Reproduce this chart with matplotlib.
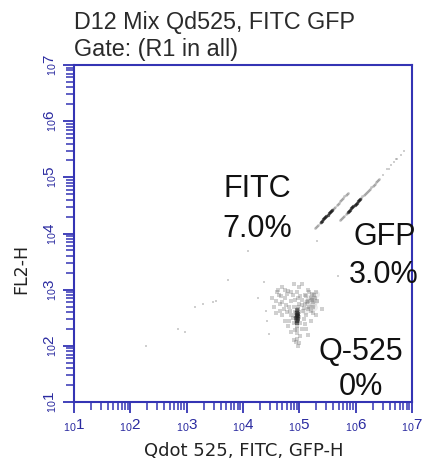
import math
import matplotlib
matplotlib.use("Agg")
import matplotlib.pyplot as plt
from matplotlib.ticker import FixedLocator, FuncFormatter

plt.rcParams['font.family'] = ['Liberation Sans', 'DejaVu Sans']

# events, in decades (log10 of channel value)
q525_x = [4.96, 4.95, 4.97, 4.96, 4.94, 4.98, 4.95, 4.97, 4.93, 4.99, 4.96, 4.95, 4.97, 4.92, 5.00,
          4.94, 4.96, 4.95, 4.97, 4.98, 4.96, 4.95, 4.97, 4.96,
          5.10, 5.15, 5.20, 5.25, 5.18, 5.12, 5.22, 5.28, 5.05, 5.15, 5.30, 5.08, 5.25,
          4.60, 4.70, 4.75, 4.65, 4.80, 4.85, 4.55, 4.90, 4.72, 4.82, 4.62, 4.78, 4.88, 4.68,
          5.00, 4.95, 5.05, 4.52,
          4.80, 4.85, 5.05, 5.10, 5.15, 4.90, 5.00, 4.75, 5.20, 5.08, 4.88, 5.30, 5.40, 4.70,
          4.58, 4.64, 4.70, 4.76, 4.84, 4.86, 4.92, 4.90, 5.02, 5.04, 5.10, 5.14, 5.18, 5.22,
          5.26, 5.32, 5.20, 5.12, 5.06, 5.02, 4.90, 4.86, 4.82, 4.92, 5.02, 4.96, 4.98, 4.94,
          5.12, 4.78, 4.66, 4.58, 5.24, 5.00, 4.98, 4.74, 5.16, 4.96, 4.94, 4.98]
q525_y = [2.53, 2.55, 2.50, 2.58, 2.48, 2.56, 2.45, 2.62, 2.53, 2.52, 2.40, 2.35, 2.66, 2.60, 2.60,
          2.42, 2.30, 2.22, 2.45, 2.70, 2.52, 2.50, 2.55, 2.47,
          2.75, 2.80, 2.85, 2.78, 2.70, 2.88, 2.92, 2.85, 2.82, 2.65, 2.95, 2.68, 2.70,
          2.95, 3.05, 2.85, 2.75, 2.98, 2.80, 2.70, 3.10, 2.65, 2.70, 3.00, 2.92, 2.90, 2.88,
          3.05, 2.95, 3.10, 2.85,
          2.35, 2.25, 2.30, 2.38, 2.20, 2.10, 2.05, 2.45, 2.45, 2.48, 2.50, 2.55, 2.65, 2.55,
          2.80, 2.90, 2.78, 2.72, 2.62, 2.95, 2.82, 2.70, 2.88, 2.72, 2.90, 2.78, 2.95, 2.82,
          2.90, 2.80, 2.62, 2.55, 2.62, 2.40, 2.40, 2.55, 2.45, 2.28, 2.18, 2.12, 2.00, 2.06,
          2.30, 2.60, 2.62, 2.58, 2.58, 2.75, 2.85, 3.00, 3.00, 2.62, 2.58, 2.46]
# dark centre of the Q-525 cloud
q525_core_x = [4.96, 4.95, 4.97, 4.96, 4.95, 4.97, 4.96, 4.94, 4.98, 4.96]
q525_core_y = [2.51, 2.55, 2.48, 2.44, 2.59, 2.53, 2.40, 2.50, 2.56, 2.63]

# lighter smudge right of the Q-525 core
smudge_x = [5.16, 5.20, 5.24, 5.28, 5.18, 5.22, 5.26, 5.14, 5.20, 5.24, 5.10, 5.30]
smudge_y = [2.72, 2.78, 2.75, 2.80, 2.85, 2.88, 2.70, 2.80, 2.68, 2.84, 2.62, 2.92]

fitc_x = [5.28, 5.30, 5.32, 5.34, 5.36, 5.38, 5.40, 5.42, 5.44, 5.46, 5.48, 5.50, 5.52, 5.54, 5.56,
          5.58, 5.60, 5.62, 5.64, 5.66, 5.68, 5.70, 5.72, 5.74, 5.76, 5.78, 5.80, 5.82, 5.84, 5.86]
fitc_y = [4.10, 4.12, 4.14, 4.16, 4.18, 4.20, 4.23, 4.25, 4.27, 4.29, 4.31, 4.33, 4.36, 4.38, 4.40,
          4.42, 4.44, 4.46, 4.48, 4.51, 4.53, 4.55, 4.57, 4.59, 4.61, 4.64, 4.66, 4.68, 4.70, 4.72]
fitc_core_x = [5.38, 5.40, 5.42, 5.44, 5.46, 5.48, 5.50, 5.52, 5.54, 5.56, 5.58]
fitc_core_y = [4.20, 4.23, 4.25, 4.27, 4.29, 4.31, 4.33, 4.36, 4.38, 4.40, 4.42]

gfp_x = [5.72, 5.74, 5.76, 5.78, 5.80, 5.82, 5.84, 5.86, 5.88, 5.90, 5.92, 5.94, 5.96, 5.98, 6.00,
         6.02, 6.04, 6.06, 6.08, 6.10, 6.12, 6.14, 6.16, 6.18, 6.20, 6.22, 6.24, 6.26, 6.28, 6.30,
         6.32, 6.34, 6.36, 6.38, 6.40, 6.42]
gfp_y = [4.24, 4.26, 4.28, 4.30, 4.32, 4.34, 4.36, 4.38, 4.40, 4.42, 4.45, 4.47, 4.49, 4.51, 4.53,
         4.55, 4.57, 4.59, 4.61, 4.63, 4.66, 4.68, 4.70, 4.72, 4.74, 4.76, 4.78, 4.80, 4.82, 4.84,
         4.87, 4.89, 4.91, 4.93, 4.95, 4.97]
gfp_core_x = [5.86, 5.88, 5.90, 5.92, 5.94, 5.96, 5.98, 6.00, 6.02, 6.04, 6.06, 6.08]
gfp_core_y = [4.38, 4.40, 4.42, 4.45, 4.47, 4.49, 4.51, 4.53, 4.55, 4.57, 4.59, 4.61]

other_x = [2.28, 2.85, 2.97, 3.15, 3.29, 3.46, 3.52, 3.73, 4.08, 4.38, 4.26, 4.40, 4.43, 4.47,
           5.68, 5.31, 6.48, 6.55, 6.60, 6.62, 6.68, 6.72, 6.74, 6.80, 6.85]
other_y = [1.99, 2.30, 2.24, 2.69, 2.74, 2.78, 2.79, 3.18, 3.68, 3.13, 2.86, 2.62, 2.44, 2.21,
           3.24, 3.86, 5.05, 5.14, 5.15, 5.22, 5.27, 5.33, 5.33, 5.40, 5.47]

decades = [1, 2, 3, 4, 5, 6, 7]
# gate labels: text, x and baseline y in decades
labels = [("FITC", 4.25, 4.65), ("7.0%", 4.25, 3.94),
          ("GFP", 6.52, 3.80), ("3.0%", 6.50, 3.12),
          ("Q-525", 6.09, 1.75), ("0%", 6.09, 1.12)]

blue = '#3434b4'


def pw(vals):
    return [10 ** v for v in vals]


fig = plt.figure(figsize=(4.22, 4.59), dpi=100)
ax = fig.add_axes([74 / 422, 1 - 402 / 459, 338 / 422, 337 / 459])

ax.scatter(pw(other_x), pw(other_y), s=3, marker='s', c='#888888', alpha=0.4, linewidths=0)
ax.scatter(pw(smudge_x), pw(smudge_y), s=25, marker='o', c='#c4c4c4', alpha=0.3, linewidths=0)
ax.scatter(pw(q525_x), pw(q525_y), s=5, marker='s', c='#666666', alpha=0.3, linewidths=0)
ax.scatter(pw(q525_core_x), pw(q525_core_y), s=6, marker='s', c='#222222', alpha=0.45, linewidths=0)
ax.scatter(pw(fitc_x), pw(fitc_y), s=4, marker='o', c='#555555', alpha=0.35, linewidths=0)
ax.scatter(pw(fitc_core_x), pw(fitc_core_y), s=6, marker='o', c='#111111', alpha=0.6, linewidths=0)
ax.scatter(pw(gfp_x), pw(gfp_y), s=4, marker='o', c='#555555', alpha=0.35, linewidths=0)
ax.scatter(pw(gfp_core_x), pw(gfp_core_y), s=6, marker='o', c='#111111', alpha=0.6, linewidths=0)

ax.set_xscale('log')
ax.set_yscale('log')
ax.set_xlim(10 ** decades[0], 10 ** decades[-1])
ax.set_ylim(10 ** decades[0], 10 ** decades[-1])

for s in ax.spines.values():
    s.set_color(blue)
    s.set_linewidth(1.5)

fmt = FuncFormatter(lambda v, p: r'$\mathregular{_{10}%d}$' % round(math.log10(v)))
for axis in (ax.xaxis, ax.yaxis):
    axis.set_major_locator(FixedLocator(pw(decades)))
    axis.set_major_formatter(fmt)
ax.tick_params(which='major', length=8, width=1.3, color=blue, labelcolor='#2a2aa0', labelsize=11, pad=3)
ax.tick_params(which='minor', length=6, width=1.1, color=blue)
for t in ax.get_yticklabels():
    t.set_rotation(90)
    t.set_va('center')

for txt, lx, ly in labels:
    ax.text(10 ** lx, 10 ** ly, txt, ha='center', va='baseline', fontsize=22, color='#111111',
            clip_on=False)

fig.text(74 / 422, 1 - 29 / 459, "D12 Mix Qd525, FITC GFP", fontsize=16.8, color='#2a2a2a', va='baseline')
fig.text(74 / 422, 1 - 56 / 459, "Gate: (R1 in all)", fontsize=16.8, color='#2a2a2a', va='baseline')
fig.text(244 / 422, 1 - 451 / 459, "Qdot 525, FITC, GFP-H", fontsize=13, color='#222222',
         ha='center', va='center', family='DejaVu Sans')
fig.text(21 / 422, 1 - 269 / 459, "FL2-H", fontsize=12.5, color='#222222', rotation=90,
         ha='center', va='center', family='DejaVu Sans')

plt.savefig("out.png", dpi=100)
